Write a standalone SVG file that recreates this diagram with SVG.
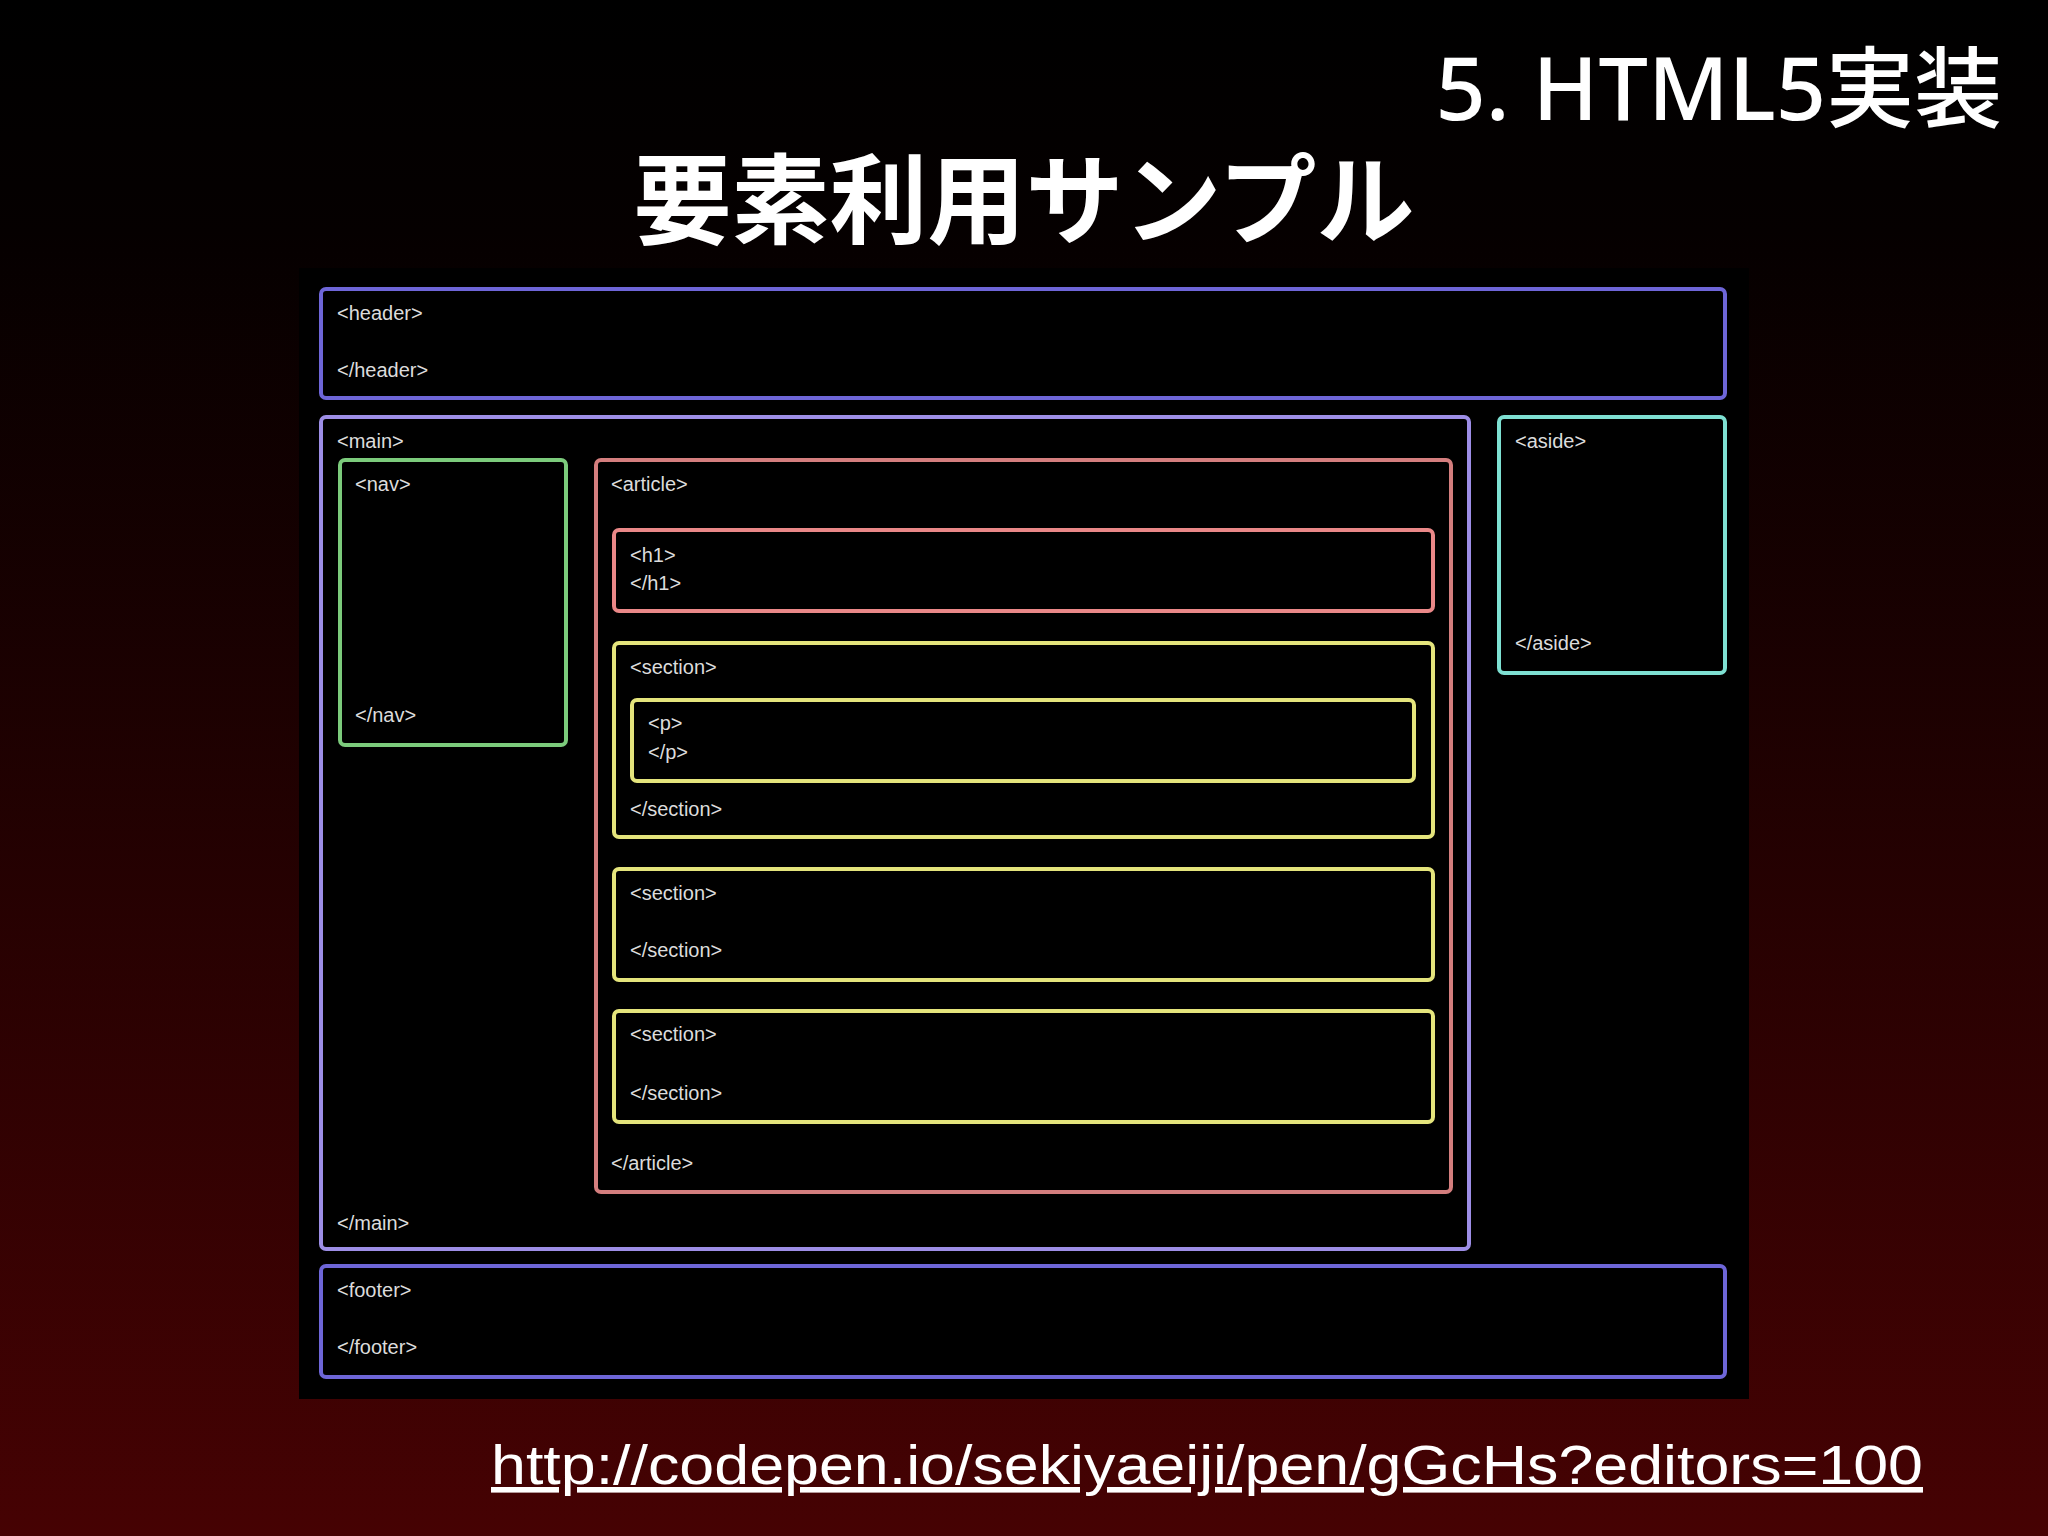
<svg xmlns="http://www.w3.org/2000/svg" width="2048" height="1536" viewBox="0 0 2048 1536">
<defs>
<linearGradient id="bg" x1="0" y1="0" x2="0" y2="1">
<stop offset="0" stop-color="#000000"/>
<stop offset="0.15" stop-color="#050000"/>
<stop offset="1" stop-color="#460203"/>
</linearGradient>
<style>
.box{fill:#000;stroke-width:4}
.lbl{font-family:"Liberation Sans",Arial,sans-serif;font-size:20px;fill:#dcdcdc}
.blue{stroke:#6e66d8}
.main{stroke:#9d8ee6}
.green{stroke:#7ccb7c}
.art{stroke:#d47e7e}
.h1{stroke:#ea8888}
.yel{stroke:#e4e47c}
.cyan{stroke:#7ee0d2}
</style>
</defs>
<rect width="2048" height="1536" fill="url(#bg)"/>
<g id="titles">
<text x="2002" y="120" text-anchor="end" font-family="'Noto Sans','Noto Sans CJK JP',sans-serif" font-size="88" font-weight="500" fill="#fff">5. HTML5実装</text>
<text x="1024" y="236" text-anchor="middle" font-family="'Noto Sans CJK JP',sans-serif" font-size="98" font-weight="700" fill="#fff">要素利用サンプル</text>
</g>
<rect id="panel" x="299" y="268" width="1450" height="1131" fill="#000"/>
<g id="header"><rect class="box blue" x="321" y="289" width="1404" height="109" rx="5"/>
<text class="lbl" x="337" y="320">&lt;header&gt;</text><text class="lbl" x="337" y="377">&lt;/header&gt;</text></g>
<g id="main"><rect class="box main" x="321" y="417" width="1148" height="832" rx="5"/>
<text class="lbl" x="337" y="448">&lt;main&gt;</text><text class="lbl" x="337" y="1230">&lt;/main&gt;</text></g>
<g id="nav"><rect class="box green" x="340" y="460" width="226" height="285" rx="5"/>
<text class="lbl" x="355" y="491">&lt;nav&gt;</text><text class="lbl" x="355" y="722">&lt;/nav&gt;</text></g>
<g id="article"><rect class="box art" x="596" y="460" width="855" height="732" rx="5"/>
<text class="lbl" x="611" y="491">&lt;article&gt;</text><text class="lbl" x="611" y="1170">&lt;/article&gt;</text></g>
<g id="h1"><rect class="box h1" x="614" y="530" width="819" height="81" rx="5"/>
<text class="lbl" x="630" y="562">&lt;h1&gt;</text><text class="lbl" x="630" y="590">&lt;/h1&gt;</text></g>
<g id="section1"><rect class="box yel" x="614" y="643" width="819" height="194" rx="5"/>
<text class="lbl" x="630" y="674">&lt;section&gt;</text><text class="lbl" x="630" y="816">&lt;/section&gt;</text></g>
<g id="p"><rect class="box yel" x="632" y="700" width="782" height="81" rx="5"/>
<text class="lbl" x="648" y="730">&lt;p&gt;</text><text class="lbl" x="648" y="759">&lt;/p&gt;</text></g>
<g id="section2"><rect class="box yel" x="614" y="869" width="819" height="111" rx="5"/>
<text class="lbl" x="630" y="900">&lt;section&gt;</text><text class="lbl" x="630" y="957">&lt;/section&gt;</text></g>
<g id="section3"><rect class="box yel" x="614" y="1011" width="819" height="111" rx="5"/>
<text class="lbl" x="630" y="1041">&lt;section&gt;</text><text class="lbl" x="630" y="1100">&lt;/section&gt;</text></g>
<g id="aside"><rect class="box cyan" x="1499" y="417" width="226" height="256" rx="5"/>
<text class="lbl" x="1515" y="448">&lt;aside&gt;</text><text class="lbl" x="1515" y="650">&lt;/aside&gt;</text></g>
<g id="footer"><rect class="box blue" x="321" y="1266" width="1404" height="111" rx="5"/>
<text class="lbl" x="337" y="1297">&lt;footer&gt;</text><text class="lbl" x="337" y="1354">&lt;/footer&gt;</text></g>
<g id="connectors"/>
<g id="url">
<text x="491" y="1484" font-family="'Liberation Sans',Arial,sans-serif" font-size="56" fill="#fff" textLength="1432" lengthAdjust="spacingAndGlyphs" text-decoration="underline">http://codepen.io/sekiyaeiji/pen/gGcHs?editors=100</text>
</g>
</svg>
